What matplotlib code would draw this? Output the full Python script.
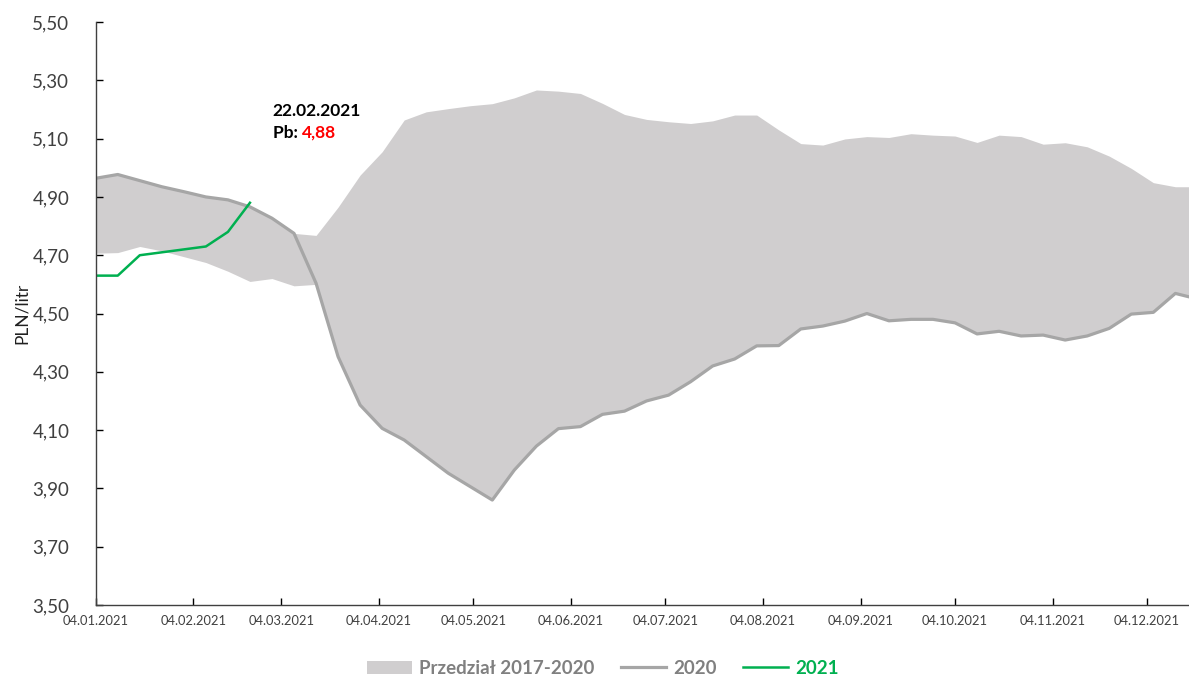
import numpy as np
import pandas as pd
import matplotlib
matplotlib.use('Agg')
from matplotlib import pyplot as plt
import matplotlib.dates as mdates
from matplotlib.ticker import FuncFormatter

plt.rcParams['font.family'] = ['Lato', 'DejaVu Sans']

# weekly quotes, Mondays from 04.01
weeks = pd.date_range('2021-01-04', periods=51, freq='7D')

# min / max of 2017-2020 for each week
band_high = [4.964, 4.977, 4.956, 4.935, 4.918, 4.900, 4.890, 4.866, 4.827, 4.775,
             4.768, 4.865, 4.975, 5.055, 5.164, 5.192, 5.203, 5.213, 5.220, 5.240,
             5.267, 5.263, 5.255, 5.221, 5.183, 5.166, 5.158, 5.152, 5.161, 5.181,
             5.181, 5.130, 5.083, 5.078, 5.099, 5.107, 5.104, 5.117, 5.112, 5.109,
             5.087, 5.112, 5.107, 5.081, 5.086, 5.072, 5.040, 4.998, 4.949, 4.935,
             4.935]
band_low = [4.707, 4.709, 4.730, 4.715, 4.695, 4.675, 4.645, 4.610, 4.620, 4.595,
            4.600, 4.352, 4.186, 4.106, 4.066, 4.009, 3.952, 3.906, 3.860, 3.963,
            4.045, 4.105, 4.112, 4.154, 4.165, 4.200, 4.220, 4.266, 4.320, 4.344,
            4.389, 4.390, 4.447, 4.457, 4.474, 4.500, 4.475, 4.480, 4.480, 4.468,
            4.430, 4.439, 4.423, 4.426, 4.409, 4.423, 4.449, 4.498, 4.504, 4.569,
            4.550]

pb_2020 = [4.964, 4.977, 4.956, 4.935, 4.918, 4.900, 4.890, 4.866, 4.827, 4.775,
           4.604, 4.352, 4.186, 4.106, 4.066, 4.009, 3.952, 3.906, 3.860, 3.963,
           4.045, 4.105, 4.112, 4.154, 4.165, 4.200, 4.220, 4.266, 4.320, 4.344,
           4.389, 4.390, 4.447, 4.457, 4.474, 4.500, 4.475, 4.480, 4.480, 4.468,
           4.430, 4.439, 4.423, 4.426, 4.409, 4.423, 4.449, 4.498, 4.504, 4.569,
           4.550]

pb_2021 = [4.63, 4.63, 4.70, 4.71, 4.72, 4.73, 4.78, 4.88]

last_date = '22.02.2021'
last_value = pb_2021[-1]

fig = plt.figure(figsize=(11.89, 6.77), dpi=100)
ax = fig.add_axes([0.0805, 0.1064, 0.9195, 0.861])

ax.fill_between(weeks, band_low, band_high, color='#D0CECF', linewidth=0,
                label='Przedział 2017-2020')
ax.plot(weeks, pb_2020, color='#A6A6A6', linewidth=2.3, label='2020')
ax.plot(weeks[:len(pb_2021)], pb_2021, color='#00B050', linewidth=1.8, label='2021')

ax.set_xlim(pd.Timestamp('2021-01-04'), pd.Timestamp('2021-12-17 08:00'))
ax.set_ylim(3.5, 5.5)

ax.set_yticks(np.arange(3.5, 5.51, 0.2))
ax.yaxis.set_major_formatter(FuncFormatter(lambda v, p: '{:.2f}'.format(v).replace('.', ',')))
ax.xaxis.set_major_locator(mdates.MonthLocator(bymonthday=4))
ax.xaxis.set_major_formatter(mdates.DateFormatter('%d.%m.%Y'))

ax.tick_params(axis='y', direction='in', length=5, width=1, labelsize=13.5,
               labelcolor='#404040', pad=19)
ax.tick_params(axis='x', direction='in', length=5, width=1, labelsize=9.3,
               labelcolor='#404040', pad=7)
for s in ['top', 'right']:
    ax.spines[s].set_visible(False)
for s in ['left', 'bottom']:
    ax.spines[s].set_color('#404040')
    ax.spines[s].set_linewidth(1)

ax.set_ylabel('PLN/litr', fontsize=12.5, color='#202020', labelpad=2)

# label for the latest 2021 quote
ax.text(pd.Timestamp('2021-03-01 04:00'), 5.196, last_date, fontsize=12.5,
        fontweight='bold', color='black', ha='left', va='center')
t = ax.text(pd.Timestamp('2021-03-01 04:00'), 5.12, 'Pb: ', fontsize=12.5,
            fontweight='bold', color='black', ha='left', va='center')
ax.annotate('{:.2f}'.format(last_value).replace('.', ','), xy=(1, 0), xycoords=t,
            fontsize=12.5, fontweight='bold', color='#FF0000', ha='left', va='bottom')

fig.legend(loc='center', bbox_to_anchor=(0.507, 0.013), ncol=3, frameon=False,
           prop={'size': 13.5, 'weight': 'bold'}, handlelength=2.4,
           columnspacing=1.4, handletextpad=0.4,
           labelcolor=['#808080', '#808080', '#00B050'])

fig.savefig('out.png', dpi=100)
